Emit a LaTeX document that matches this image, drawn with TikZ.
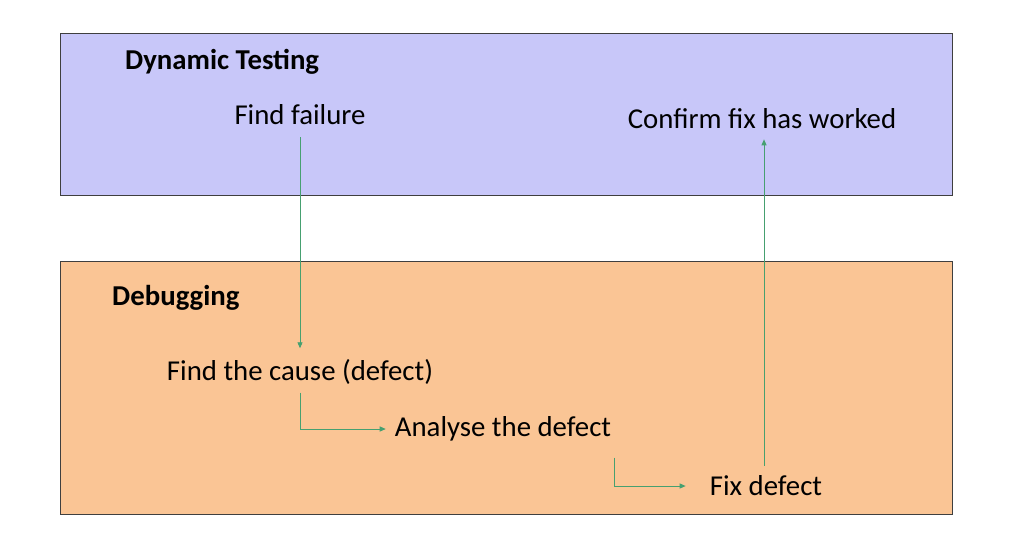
\documentclass[tikz,border=0pt]{standalone}
\usepackage{fontspec}
\setmainfont{Carlito}
\usetikzlibrary{arrows.meta}
\definecolor{lav}{HTML}{C8C7F9}
\definecolor{peach}{HTML}{FAC595}
\definecolor{frame}{HTML}{3F3F3F}
\definecolor{grn}{HTML}{46A070}
\tikzset{
  panel/.style={draw=frame, line width=0.8pt},
  lbl/.style={inner sep=0pt, font=\fontsize{28.8}{34}\selectfont},
  ttl/.style={inner sep=0pt, font=\fontsize{28.8}{34}\selectfont\bfseries},
  arr/.style={draw=grn, line width=0.9pt, -{Triangle[length=6pt,width=5pt]}}
}
\begin{document}
\begin{tikzpicture}[x=1pt,y=-1pt]
\useasboundingbox (0,0) rectangle (1022,542);
\fill[white] (0,0) rectangle (1022,542);
\draw[panel, fill=lav] (60,33) rectangle (952,195);
\draw[panel, fill=peach] (60,261) rectangle (952,514);
\node[ttl, anchor=west] (dt) at (125,62) {Dynamic Testing};
\node[ttl, anchor=west] (dbg) at (112,298) {Debugging};
\node[lbl] (ff) at (300,115) {Find failure};
\node[lbl] (conf) at (762,119) {Confirm fix has worked};
\node[lbl] (cause) at (300,372) {Find the cause (defect)};
\node[lbl] (an) at (503,429) {Analyse the defect};
\node[lbl] (fix) at (766,486) {Fix defect};
\draw[arr] ([yshift=-12pt]ff.south) -- ([yshift=11pt]cause.north);
\draw[arr] ([yshift=-8pt]cause.south) |- ([xshift=-9pt]an.west);
\draw[arr] ([xshift=3pt,yshift=-16pt]an.south east) |- ([xshift=-24pt]fix.west);
\draw[arr] ([xshift=-2pt,yshift=10pt]fix.north) -- ([xshift=2pt,yshift=-10pt]conf.south);
\end{tikzpicture}
\end{document}
